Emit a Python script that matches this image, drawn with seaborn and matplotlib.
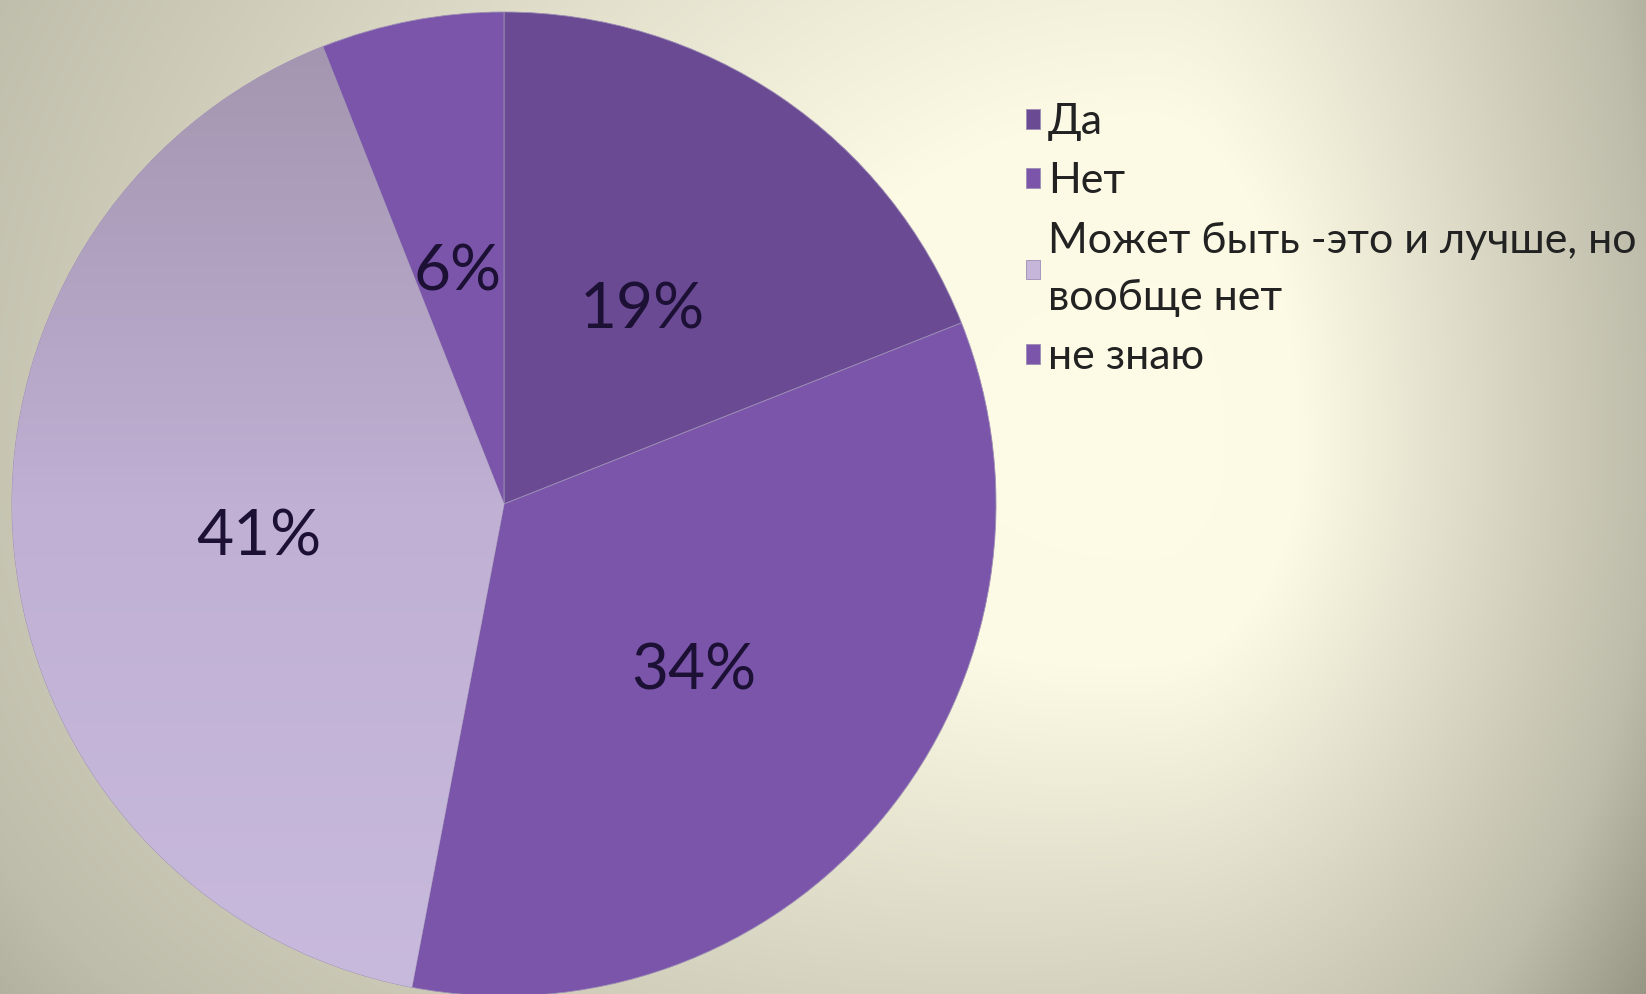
import numpy as np
import matplotlib
matplotlib.use("Agg")
import matplotlib.pyplot as plt
import seaborn as sns
from matplotlib.colors import LinearSegmentedColormap, to_rgb

# ---- data ----
categories = ["Да", "Нет", "Может быть -это и лучше, но\nвообще нет", "не знаю"]
values = [19, 34, 41, 6]
slice_colors = ["#6A4A93", "#7A55AA", "#C5B6DA", "#7A55AA"]

sns.set_theme(style="white")
plt.rcParams["font.family"] = ["Lato", "Open Sans", "DejaVu Sans"]

W, H = 1646, 994
fig = plt.figure(figsize=(W / 100, H / 100), dpi=100)

# ---- background gradient ----
bg = fig.add_axes([0, 0, 1, 1], zorder=-10)
yy, xx = np.mgrid[0:H, 0:W].astype(float)
cx, cy = 1150.0, 450.0
dx = xx - cx
dy = yy - cy
sx = np.where(dx < 0, 1280.0, 500.0)
sy_bottom = 725.0 + 200.0 * np.clip(-dx / 1150.0, 0, 1)
sy = np.where(dy < 0, 1125.0, sy_bottom)
t = np.sqrt((dx / sx) ** 2 + (dy / sy) ** 2)
stops = [0.0, 0.3, 1.0, 1.25]
cols = [to_rgb(c) for c in ["#FEFBE7", "#FCF9E4", "#BEBCAA", "#969482"]]
img = np.zeros((H, W, 3))
for k in range(3):
    img[..., k] = np.interp(t, stops, [c[k] for c in cols])
bg.imshow(img, aspect="auto", extent=[0, W, H, 0])
bg.set_axis_off()

# ---- pie ----
cxp, cyp, R = 504, 504, 492
ax = fig.add_axes([(cxp - R) / W, (H - cyp - R) / H, 2 * R / W, 2 * R / H])
ax.set_facecolor("none")
wedges, texts, autotexts = ax.pie(
    values,
    colors=slice_colors,
    startangle=90,
    counterclock=False,
    radius=1,
    autopct="%d%%",
    pctdistance=0.5,
    wedgeprops=dict(edgecolor="#9C8DB4", linewidth=0.6),
    textprops=dict(color="#1C1035", fontsize=46),
)
ax.set_xlim(-1, 1)
ax.set_ylim(-1, 1)
ax.set_aspect("equal")
ax.set_axis_off()

# vertical gradient on the light slice
grad_cmap = LinearSegmentedColormap.from_list("g", ["#C8BADD", "#BFB0D4", "#A293AD"])
gy = np.linspace(0, 1, 256).reshape(-1, 1)
gim = ax.imshow(gy, cmap=grad_cmap, extent=[-1, 1, -1, 1], origin="lower",
                aspect="auto", zorder=wedges[2].get_zorder() + 0.1)
gim.set_clip_path(wedges[2])
for tx in autotexts:
    tx.set_zorder(10)
    tx.set_y(tx.get_position()[1] - 0.021)

# ---- legend ----
leg = fig.legend(
    wedges, categories,
    loc="upper left",
    bbox_to_anchor=(0.6235, 0.896),
    frameon=False,
    fontsize=31,
    handlelength=0.33,
    handleheight=0.33,
    handletextpad=0.17,
    labelspacing=0.49,
    borderpad=0,
    borderaxespad=0,
)
for txt in leg.get_texts():
    txt.set_color("#222222")
    txt.set_linespacing(1.63)

fig.savefig("out.png", dpi=100)
